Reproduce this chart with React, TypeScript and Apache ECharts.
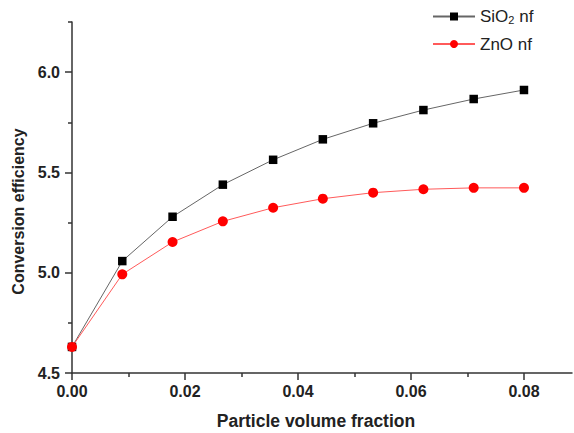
import React, { useEffect, useRef } from "react";
import * as echarts from "echarts";

// Particle volume fraction (x) and conversion efficiency for each nanofluid
const volumeFraction = [0, 0.0089, 0.0178, 0.0267, 0.0356, 0.0444, 0.0533, 0.0622, 0.0711, 0.08];
const sio2Efficiency = [4.63, 5.058, 5.279, 5.439, 5.563, 5.665, 5.745, 5.811, 5.866, 5.911];
const znoEfficiency = [4.63, 4.992, 5.153, 5.256, 5.324, 5.369, 5.399, 5.416, 5.423, 5.423];

const xMajorTicks = [0, 0.02, 0.04, 0.06, 0.08];
const xMinorTicks = [0.01, 0.03, 0.05, 0.07];
const yMajorTicks = [4.5, 5.0, 5.5, 6.0];
const yMinorTicks = [4.75, 5.25, 5.75, 6.25];

const seriesNames = ["SiO2 nf", "ZnO nf"];
const xTitle = "Particle volume fraction";
const yTitle = "Conversion efficiency";

const AXIS_COLOR = "#333";
const FONT = "'Liberation Sans', Arial, sans-serif";

export default function App() {
  const ref = useRef<HTMLDivElement>(null);

  useEffect(() => {
    if (!ref.current) return;
    const chart = echarts.init(ref.current, null, { renderer: "svg" });

    const pairs = (ys: number[]) => volumeFraction.map((x, i) => [x, ys[i]]);

    const tickLine = { color: AXIS_COLOR, width: 1.5 };

    chart.setOption({
      animation: false,
      backgroundColor: "#fff",
      textStyle: { fontFamily: FONT },
      grid: { left: 72, right: 2, top: 22, bottom: 60, containLabel: false },
      legend: {
        orient: "vertical",
        left: 427,
        top: 3,
        itemWidth: 42,
        itemHeight: 10,
        itemGap: 10,
        data: seriesNames,
        formatter: (name: string) =>
          name === "SiO2 nf" ? "{a|SiO}{s|2}{a| nf}" : "{a|ZnO nf}",
        textStyle: {
          color: "#222",
          fontFamily: FONT,
          rich: {
            a: { fontSize: 17, lineHeight: 18, color: "#222", fontFamily: FONT },
            s: { fontSize: 11, lineHeight: 18, verticalAlign: "bottom", color: "#222", fontFamily: FONT, padding: [6, 0, 0, 0] },
          },
        },
      },
      graphic: [
        {
          type: "text",
          x: 316,
          y: 421,
          style: {
            text: xTitle,
            font: `bold 17.5px ${FONT}`,
            fill: "#222",
            align: "center",
            verticalAlign: "middle",
          },
        },
        {
          type: "text",
          x: 18.5,
          y: 211.5,
          rotation: Math.PI / 2,
          style: {
            text: yTitle,
            font: `bold 16px ${FONT}`,
            fill: "#222",
            align: "center",
            verticalAlign: "middle",
          },
        },
      ],
      xAxis: [
        {
          type: "value",
          min: 0,
          max: 0.0885,
          position: "bottom",
          axisLine: { show: true, lineStyle: tickLine },
          axisTick: { show: true, inside: false, length: 7, customValues: xMajorTicks, lineStyle: tickLine },
          axisLabel: {
            customValues: xMajorTicks,
            formatter: (v: number) => v.toFixed(2),
            fontSize: 16,
            fontWeight: "bold",
            color: "#222",
            margin: 10,
            fontFamily: FONT,
          },
          splitLine: { show: false },
        },
        {
          type: "value",
          min: 0,
          max: 0.0885,
          position: "bottom",
          axisLine: { show: false },
          axisTick: { show: true, inside: false, length: 4, customValues: xMinorTicks, lineStyle: tickLine },
          axisLabel: { show: false },
          splitLine: { show: false },
        },
      ],
      yAxis: [
        {
          type: "value",
          min: 4.5,
          max: 6.25,
          position: "left",
          axisLine: { show: true, lineStyle: tickLine },
          axisTick: { show: true, inside: false, length: 7, customValues: yMajorTicks, lineStyle: tickLine },
          axisLabel: {
            customValues: yMajorTicks,
            formatter: (v: number) => v.toFixed(1),
            fontSize: 16,
            fontWeight: "bold",
            color: "#222",
            margin: 12,
            fontFamily: FONT,
          },
          splitLine: { show: false },
        },
        {
          type: "value",
          min: 4.5,
          max: 6.25,
          position: "left",
          axisLine: { show: false },
          axisTick: { show: true, inside: false, length: 4, customValues: yMinorTicks, lineStyle: tickLine },
          axisLabel: { show: false },
          splitLine: { show: false },
        },
      ],
      series: [
        {
          name: seriesNames[0],
          type: "line",
          xAxisIndex: 0,
          yAxisIndex: 0,
          data: pairs(sio2Efficiency),
          symbol: "rect",
          symbolSize: 8.5,
          showAllSymbol: true,
          itemStyle: { color: "#000" },
          lineStyle: { color: "#666", width: 1 },
          z: 3,
        },
        {
          name: seriesNames[1],
          type: "line",
          xAxisIndex: 0,
          yAxisIndex: 0,
          data: pairs(znoEfficiency),
          symbol: "circle",
          symbolSize: 10,
          showAllSymbol: true,
          itemStyle: { color: "#ff0000" },
          lineStyle: { color: "#ff5a5a", width: 1 },
          z: 4,
        },
      ],
    });

    return () => chart.dispose();
  }, []);

  return (
    <div
      ref={ref}
      style={{ position: "fixed", left: 0, top: 0, width: 574, height: 433, background: "#fff" }}
    />
  );
}
